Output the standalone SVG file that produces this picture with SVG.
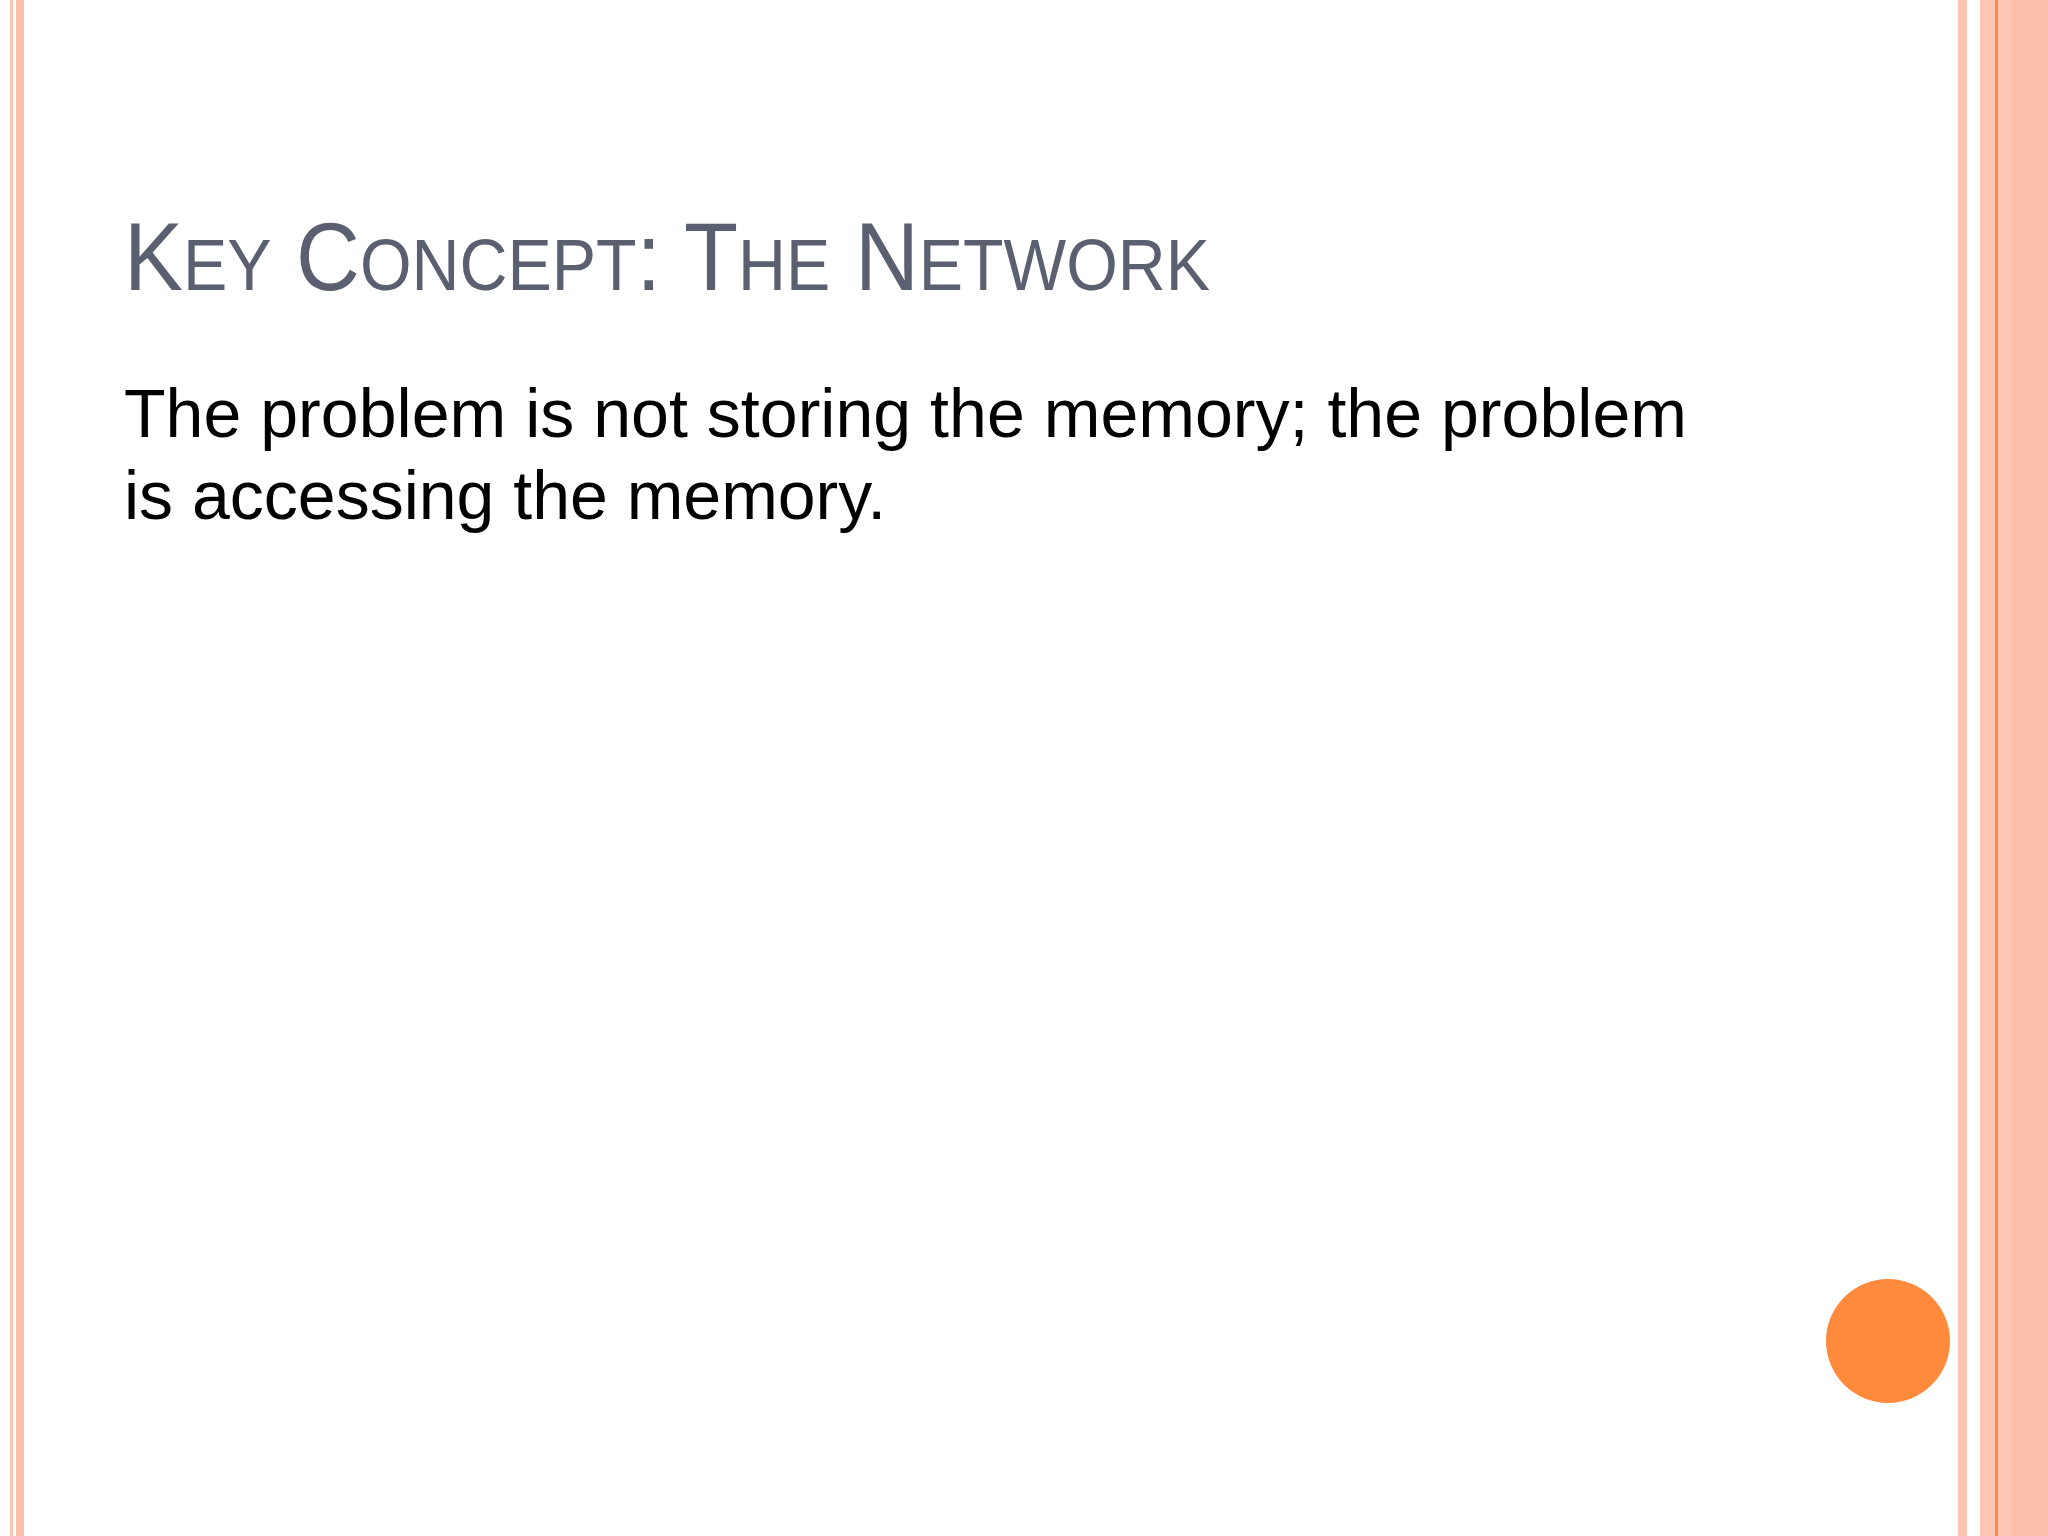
<svg xmlns="http://www.w3.org/2000/svg" width="2048" height="1536" viewBox="0 0 2048 1536">
<style>
.t{font-family:"Liberation Sans",Arial,sans-serif;fill:#5B6070}
.b{font-family:"Liberation Sans",Arial,sans-serif;fill:#000;font-size:68px}
</style>
<rect width="2048" height="1536" fill="#fff"/>
<g id="borders">
<rect x="10" y="0" width="3" height="1536" fill="#FCC7B6"/>
<rect x="16" y="0" width="8" height="1536" fill="#FCBFAA"/>
<rect x="1958" y="0" width="9" height="1536" fill="#FDC6B4"/>
<rect x="1980" y="0" width="68" height="1536" fill="#FDC6B4"/>
<rect x="2012" y="0" width="36" height="1536" fill="#FCC0AA"/>
<rect x="1995" y="0" width="3" height="1536" fill="#FF8A3C"/>
</g>
<g id="title">
<text class="t" x="124" y="290" font-size="96" textLength="1086" lengthAdjust="spacingAndGlyphs">K<tspan font-size="72">EY</tspan> C<tspan font-size="72">ONCEPT</tspan>: T<tspan font-size="72">HE</tspan> N<tspan font-size="72">ETWORK</tspan></text>
</g>
<g id="body">
<text class="b" x="124" y="437" textLength="1563" lengthAdjust="spacingAndGlyphs">The problem is not storing the memory; the problem</text>
<text class="b" x="124" y="519">is accessing the memory.</text>
</g>
<circle id="dot" cx="1888" cy="1341" r="62" fill="#FF8A3C"/>
</svg>
